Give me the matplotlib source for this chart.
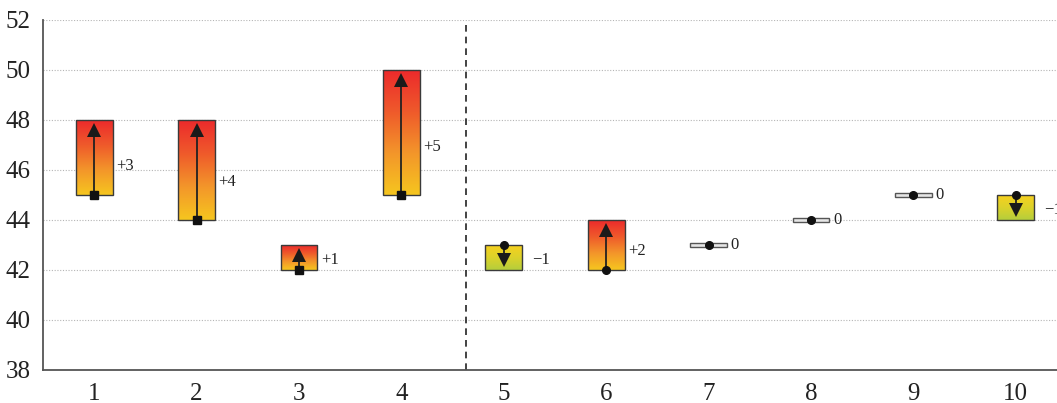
import numpy as np
import matplotlib
matplotlib.use("Agg")
import matplotlib.pyplot as plt
from matplotlib.colors import LinearSegmentedColormap
from matplotlib.patches import Rectangle

# ---- data ----
categories = ["1", "2", "3", "4", "5", "6", "7", "8", "9", "10"]
start_vals = [45, 44, 42, 45, 43, 42, 43, 44, 45, 45]
end_vals = [48, 48, 43, 50, 42, 44, 43, 44, 45, 44]
start_markers = ["s", "s", "s", "s", "o", "o", "o", "o", "o", "o"]
y_ticks = [38, 40, 42, 44, 46, 48, 50, 52]

plt.rcParams["font.family"] = ["Liberation Serif", "DejaVu Serif"]

W, H, DPI = 1057, 403, 100
fig = plt.figure(figsize=(W / DPI, H / DPI), dpi=DPI)
# axes in pixel layout (extends slightly past right edge like the reference)
left_px, right_px, top_px, bot_px = 43, 1067, 20, 370
ax = fig.add_axes([left_px / W, (H - bot_px) / H, (right_px - left_px) / W, (bot_px - top_px) / H])

n = len(categories)
xs = np.arange(1, n + 1)
ax.set_xlim(0.5, n + 0.5)
ax.set_ylim(y_ticks[0], y_ticks[-1])

def dy(px):
    inv = ax.transData.inverted()
    return inv.transform((0, px))[1] - inv.transform((0, 0))[1]

up_cmap = LinearSegmentedColormap.from_list("up", ["#F6C61F", "#F3962A", "#EF5A2B", "#EC2A2C"])
down_cmap = LinearSegmentedColormap.from_list("down", ["#B5CE3C", "#DCD22A", "#F7D01E"])
grad = np.linspace(0, 1, 256).reshape(-1, 1)

bw = 0.36
for x, s, e, m in zip(xs, start_vals, end_vals, start_markers):
    d = e - s
    lo, hi = min(s, e), max(s, e)
    if d == 0:
        h = dy(4)
        ax.add_patch(Rectangle((x - bw / 2, s - h / 2), bw, h, facecolor="#e6e6e6",
                               edgecolor="#555555", lw=1.0, zorder=3))
        ax.plot([x], [s], marker=m, color="#111111", ms=5.5, zorder=5)
        label = "0"
        ly = s
    else:
        cmap = up_cmap if d > 0 else down_cmap
        ax.imshow(grad, extent=[x - bw / 2, x + bw / 2, lo, hi], origin="lower",
                  cmap=cmap, aspect="auto", zorder=2, interpolation="bilinear")
        ax.add_patch(Rectangle((x - bw / 2, lo), bw, hi - lo, facecolor="none",
                               edgecolor="#3a3a3a", lw=1.0, zorder=3))
        sign = 1 if d > 0 else -1
        tip = e - sign * dy(3.5)
        head_c = tip - sign * dy(6.5)
        ax.plot([x, x], [s, head_c], color="#222222", lw=1.3, zorder=4)
        ax.plot([x], [head_c], marker="^" if d > 0 else "v", color="#1a1a1a",
                ms=9.5, mew=0, zorder=5)
        ax.plot([x], [s], marker=m, color="#111111", ms=5.5, zorder=5)
        label = ("+%d" % d) if d > 0 else ("\u2212%d" % (-d))
        ly = lo + 0.38 * (hi - lo)
    ax.annotate(label, (x + bw / 2, ly), xytext=(2.5 if d >= 0 else 7, 0),
                textcoords="offset points", ha="left", va="center",
                fontsize=12, color="#222222", annotation_clip=False, zorder=6)

# separator
ax.axvline(4.63, color="#222222", lw=1.2, ls=(0, (4, 3)), zorder=1)

ax.set_xticks(xs)
ax.set_xticklabels(categories)
ax.set_yticks(y_ticks)
ax.tick_params(axis="both", length=0, labelsize=18, colors="#222222")
ax.tick_params(axis="x", pad=9)
ax.tick_params(axis="y", pad=9)
for yv in y_ticks[1:]:
    ax.axhline(yv, color="#b5b5b5", lw=0.8, ls=(0, (1, 1.5)), zorder=0)

for sp in ["top", "right"]:
    ax.spines[sp].set_visible(False)
for sp in ["left", "bottom"]:
    ax.spines[sp].set_color("#555555")
    ax.spines[sp].set_linewidth(1.3)

fig.savefig("out.png", dpi=DPI)
